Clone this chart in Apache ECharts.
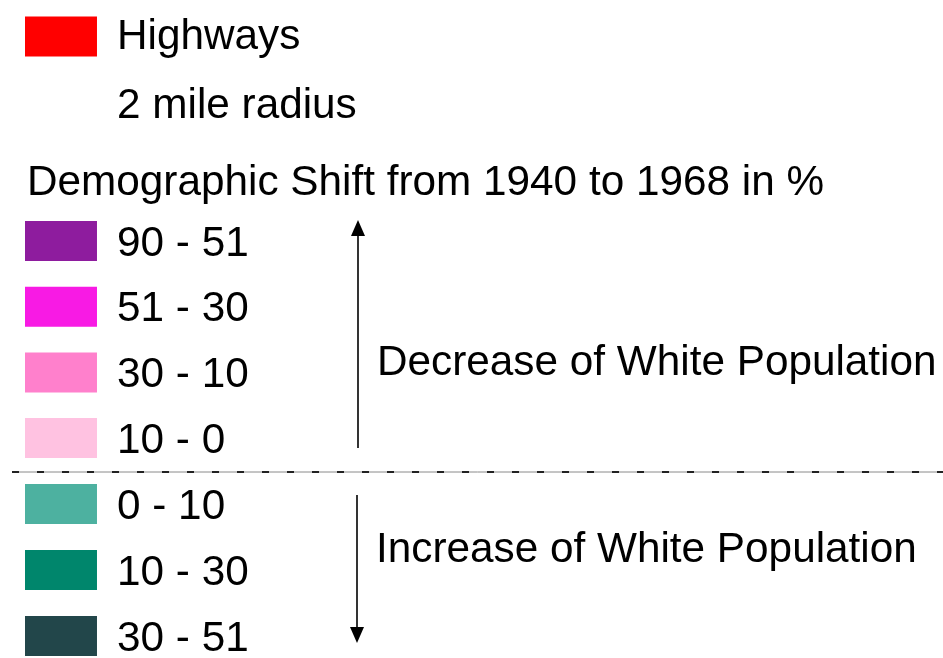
<!DOCTYPE html>
<html>
<head>
<meta charset="utf-8">
<script src="https://cdn.jsdelivr.net/npm/echarts@6/dist/echarts.min.js"></script>
<style>
html,body{margin:0;padding:0;background:#fff;}
#chart{width:943px;height:658px;}
</style>
</head>
<body>
<div id="chart"></div>
<script>
// ---- data ----
const topLabels = ['Highways', '2 mile radius'];
const topColors = ['#ff0000', 'rgba(0,0,0,0)'];
const titleText = 'Demographic Shift from 1940 to 1968 in %';
const decreaseLabels = ['90 - 51', '51 - 30', '30 - 10', '10 - 0'];
const decreaseColors = ['#8e1c9e', '#f81ae4', '#ff80cc', '#ffc2e1'];
const increaseLabels = ['0 - 10', '10 - 30', '30 - 51'];
const increaseColors = ['#4db1a0', '#00866c', '#22464a'];
const arrowLabels = ['Decrease of White Population', 'Increase of White Population'];

const FONT = '"Liberation Sans", Arial, Helvetica, sans-serif';
const FS = 42.3;
// swatch occupies the top 40px of a taller legend item, so the label sits slightly lower
const SWATCH_ICON = 'path://M0,0H72V40H0Z M0,46H0.01V46.01Z';
const SWATCH_ICON_TOP = 'path://M0,0H72V40H0Z M0,42H0.01V42.01Z';

const chart = echarts.init(document.getElementById('chart'), null, {renderer: 'canvas'});

const allNames = topLabels.concat(decreaseLabels, increaseLabels);
const allColors = topColors.concat(decreaseColors, increaseColors);

function legendData(labels, colors, icon) {
  return labels.map((n, i) => ({name: n, icon: icon, itemStyle: {color: colors[i], borderWidth: 0}}));
}

const baseLegend = {
  orient: 'vertical',
  left: 25,
  height: 320,
  itemWidth: 72,
  itemHeight: 40,
  selectedMode: false,
  padding: 0,
  inactiveColor: '#000'
};
const labelStyle = {fontSize: FS, fontFamily: FONT, color: '#000', lineHeight: 40, padding: [0, 0, 0, 15]};

const option = {
  backgroundColor: '#ffffff',
  animation: false,
  legend: [
    Object.assign({}, baseLegend, {
      top: 16.5,
      itemHeight: 42,
      itemGap: 27,
      data: legendData(topLabels, topColors, SWATCH_ICON_TOP),
      textStyle: labelStyle
    }),
    Object.assign({}, baseLegend, {
      top: 221,
      itemHeight: 46,
      itemGap: 19.7,
      data: legendData(decreaseLabels, decreaseColors, SWATCH_ICON),
      textStyle: labelStyle
    }),
    Object.assign({}, baseLegend, {
      top: 484,
      itemHeight: 46,
      itemGap: 20,
      data: legendData(increaseLabels, increaseColors, SWATCH_ICON),
      textStyle: labelStyle
    })
  ],
  series: [{
    type: 'pie',
    radius: [0, 0],
    center: [-100, -100],
    silent: true,
    label: {show: false},
    labelLine: {show: false},
    data: allNames.map((n, i) => ({name: n, value: 1, itemStyle: {color: allColors[i]}}))
  }],
  graphic: [
    {type: 'text', left: 27, top: 184 - FS / 2 - 1,
     style: {text: titleText, font: FS + 'px ' + FONT, fill: '#000'}},
    // dashed separator: thin grey base line with dark dashes on top
    {type: 'line', shape: {x1: 12, y1: 472, x2: 943, y2: 472},
     style: {stroke: '#8a8a8a', lineWidth: 1}},
    {type: 'line', shape: {x1: 12, y1: 472, x2: 943, y2: 472},
     style: {stroke: '#222', lineWidth: 2, lineDash: [7, 18]}},
    // up arrow
    {type: 'line', shape: {x1: 358, y1: 448, x2: 358, y2: 230},
     style: {stroke: '#000', lineWidth: 1.6}},
    {type: 'polygon', shape: {points: [[358, 220], [351, 236], [365, 236]]},
     style: {fill: '#000'}},
    // down arrow
    {type: 'line', shape: {x1: 357, y1: 495, x2: 357, y2: 633},
     style: {stroke: '#000', lineWidth: 1.6}},
    {type: 'polygon', shape: {points: [[357, 643], [350, 627], [364, 627]]},
     style: {fill: '#000'}},
    {type: 'text', left: 377, top: 364 - FS / 2 - 1,
     style: {text: arrowLabels[0], font: FS + 'px ' + FONT, fill: '#000'}},
    {type: 'text', left: 376, top: 551.5 - FS / 2 - 1,
     style: {text: arrowLabels[1], font: FS + 'px ' + FONT, fill: '#000'}}
  ]
};
chart.setOption(option);
</script>
</body>
</html>
